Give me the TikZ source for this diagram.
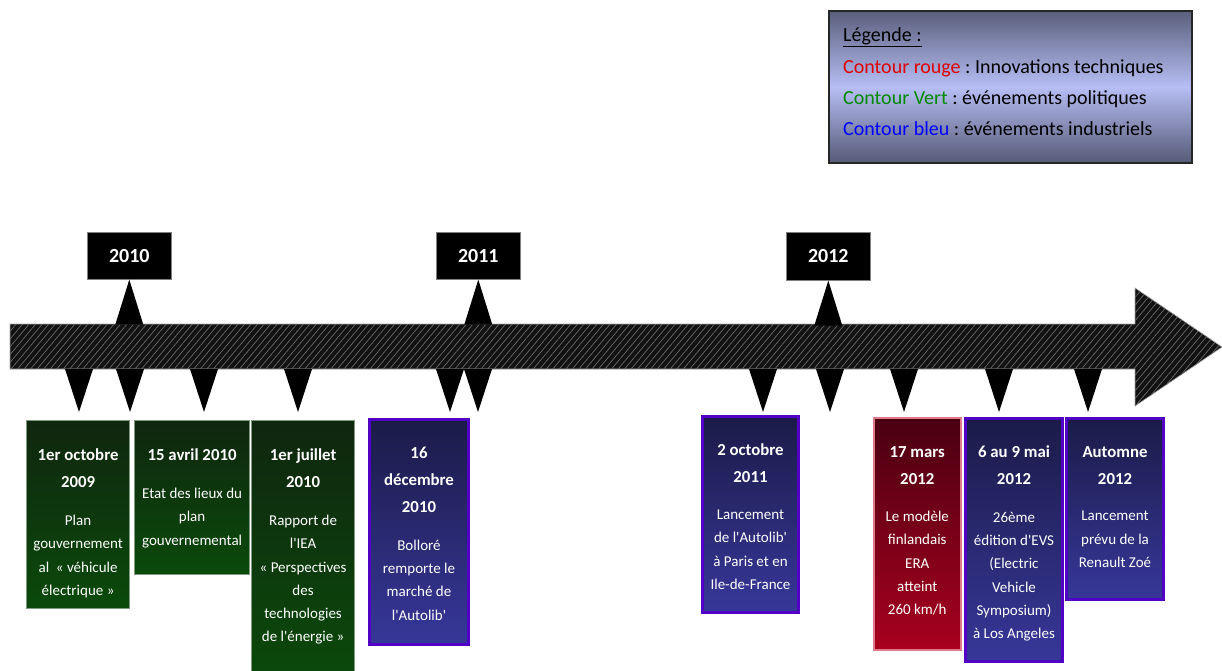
\documentclass[tikz,border=0pt]{standalone}
\usepackage{fontspec}
\setmainfont{Carlito}
\frenchspacing
\usetikzlibrary{positioning,patterns.meta,calc}
\definecolor{bar}{HTML}{121212}
\definecolor{hatch}{HTML}{6A6A6A}
\definecolor{grtop}{HTML}{0F260F}
\definecolor{grbot}{HTML}{0B4A0B}
\definecolor{gredge}{HTML}{7F9A7F}
\definecolor{bltop}{HTML}{1B1B48}
\definecolor{blbot}{HTML}{37379A}
\definecolor{bledge}{HTML}{5200C6}
\definecolor{rdtop}{HTML}{4A0012}
\definecolor{rdbot}{HTML}{A8001E}
\definecolor{rdedge}{HTML}{E07A8A}
\definecolor{lgtop}{HTML}{5A5F7C}
\definecolor{lgmid}{HTML}{B6BEF4}
\definecolor{lgbot}{HTML}{555A76}
\definecolor{lgred}{HTML}{E00000}
\definecolor{lggreen}{HTML}{008A00}
\definecolor{lgblue}{HTML}{0000FF}
\newcommand{\qs}{\textquotesingle}
\tikzset{
  evbox/.style={anchor=north west, inner sep=0pt},
  greenbox/.style={evbox, draw=gredge, line width=1.2pt, top color=grtop, bottom color=grbot},
  bluebox/.style={evbox, draw=bledge, line width=3pt, top color=bltop, bottom color=blbot},
  redbox/.style={evbox, draw=rdedge, line width=1.5pt, top color=rdtop, bottom color=rdbot},
  datetxt/.style={text=white, align=center, inner sep=0pt, font=\fontsize{16.8}{27}\selectfont\bfseries},
  bodytxt/.style={text=white, align=center, inner sep=0pt, font=\fontsize{15}{23.3}\selectfont},
  yearbox/.style={fill=black, draw=gray, line width=0.6pt, text=white, anchor=north west, inner sep=0pt, font=\fontsize{20}{24}\selectfont\bfseries},
  marker/.style={fill=black},
  arrowbody/.style={fill=bar, draw=gray!70, line width=0.6pt,
    postaction={pattern={Lines[angle=50, distance=5pt, line width=0.7pt]}, pattern color=hatch}},
  legtxt/.style={anchor=base west, inner sep=0pt, font=\fontsize{20}{24}\selectfont}
}

\begin{document}
\begin{tikzpicture}[x=1pt,y=-1pt]
  \useasboundingbox (0,0) rectangle (1222,670);

  % legend
  \node[anchor=north west, minimum width=363, minimum height=152, draw=black!85, line width=2pt,
        top color=lgtop, bottom color=lgbot, middle color=lgmid] (legend) at (828,10) {};
  \node[legtxt] (leg0) at (843,41) {\underline{Légende :}};
  \node[legtxt] (leg1) at (843,73) {{\color{lgred}Contour rouge} : Innovations techniques};
  \node[legtxt] (leg2) at (843,104) {{\color{lggreen}Contour Vert} : événements politiques};
  \node[legtxt] (leg3) at (843,135) {{\color{lgblue}Contour bleu} : événements industriels};

  % timeline arrow
  \draw[arrowbody] (10,324) -- (1135,324) -- (1135,288) -- (1222,347) -- (1135,406) -- (1135,369) -- (10,369) -- cycle;

  % years
  \node[yearbox, minimum width=84, minimum height=47] (y10) at (87,232) {2010};
  \node[yearbox, minimum width=84, minimum height=47] (y11) at (436,232) {2011};
  \node[yearbox, minimum width=84, minimum height=48] (y12) at (786,232) {2012};
  \foreach \yr in {y10,y11,y12}
    \fill[marker] (\yr.south) -- ($(\yr.south)+(-14,45)$) -- ($(\yr.south)+(14,45)$) -- cycle;
  \foreach \x in {79,130,204,298,450,478,763,830,904,999,1088}
    \fill[marker] (\x-14,369) -- (\x+14,369) -- (\x,412) -- cycle;

  % events
  \node[greenbox, minimum width=103, minimum height=188] (oct09) at (26,420) {};
  \node[datetxt, below=29pt of oct09.north] (oct09d) {1er octobre\\2009};
  \node[bodytxt, below=26.5pt of oct09d] (oct09b) {Plan\\gouvernement\\al~ « véhicule\\électrique »};

  \node[greenbox, minimum width=115, minimum height=154] (avr10) at (134,420) {};
  \node[datetxt, below=29pt of avr10.north] (avr10d) {15 avril 2010};
  \node[bodytxt, below=26.5pt of avr10d] (avr10b) {Etat des lieux du\\plan\\gouvernemental};

  \node[greenbox, minimum width=103, minimum height=262] (jul10) at (251,420) {};
  \node[datetxt, below=29pt of jul10.north] (jul10d) {1er juillet\\2010};
  \node[bodytxt, below=26.5pt of jul10d] (jul10b) {Rapport de\\l\qs IEA\\« Perspectives\\des\\technologies\\de l\qs énergie »};

  \node[bluebox, minimum width=99, minimum height=225] (dec10) at (368,418) {};
  \node[datetxt, below=29pt of dec10.north] (dec10d) {16\\décembre\\2010};
  \node[bodytxt, below=26.5pt of dec10d] (dec10b) {Bolloré\\remporte le\\marché de\\l\qs Autolib\qs};

  \node[bluebox, minimum width=96, minimum height=196] (oct11) at (701,415) {};
  \node[datetxt, below=29pt of oct11.north] (oct11d) {2 octobre\\2011};
  \node[bodytxt, below=26.5pt of oct11d] (oct11b) {Lancement\\de l\qs Autolib\qs\\à Paris et en\\Ile-de-France};

  \node[redbox, minimum width=87, minimum height=232] (mar12) at (873,417) {};
  \node[datetxt, below=29pt of mar12.north] (mar12d) {17 mars\\2012};
  \node[bodytxt, below=26.5pt of mar12d] (mar12b) {Le modèle\\finlandais\\ERA\\atteint\\260 km/h};

  \node[bluebox, minimum width=97, minimum height=243] (mai12) at (964,417) {};
  \node[datetxt, below=29pt of mai12.north] (mai12d) {6 au 9 mai\\2012};
  \node[bodytxt, below=26.5pt of mai12d] (mai12b) {26ème\\édition d\qs EVS\\(Electric\\Vehicle\\Symposium)\\à Los Angeles};

  \node[bluebox, minimum width=97, minimum height=181] (aut12) at (1065,417) {};
  \node[datetxt, below=29pt of aut12.north] (aut12d) {Automne\\2012};
  \node[bodytxt, below=26.5pt of aut12d] (aut12b) {Lancement\\prévu de la\\Renault Zoé};
\end{tikzpicture}
\end{document}
